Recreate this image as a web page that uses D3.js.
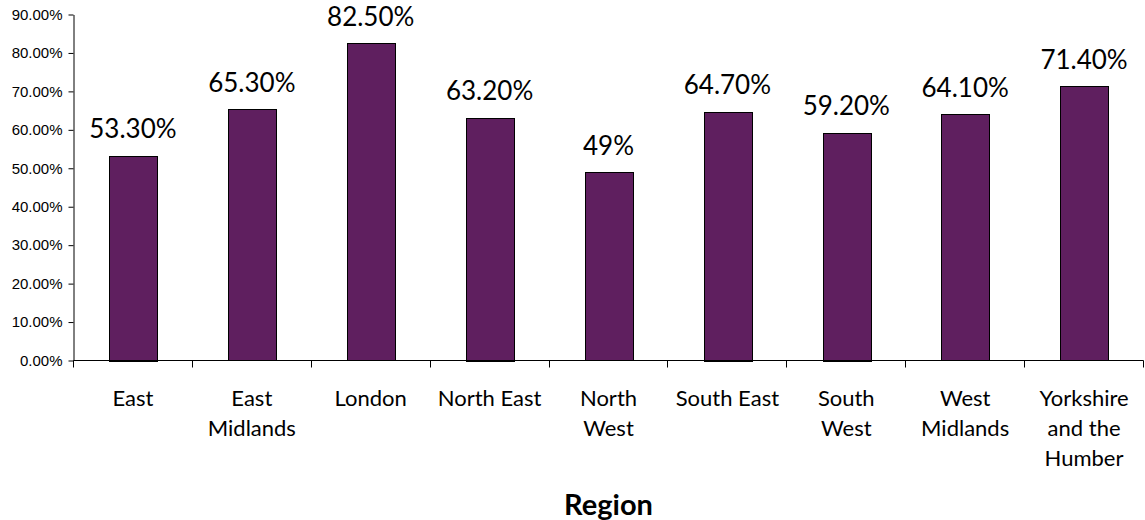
<!DOCTYPE html>
<html>
<head>
<meta charset="utf-8">
<script src="https://cdn.jsdelivr.net/npm/d3@7"></script>
<style>
  body { margin: 0; background: #fff; }
  svg { display: block; }
</style>
</head>
<body>
<div id="chart"></div>
<script>
// Share of respondents by region
const regions = [
  ['East'],
  ['East', 'Midlands'],
  ['London'],
  ['North East'],
  ['North', 'West'],
  ['South East'],
  ['South', 'West'],
  ['West', 'Midlands'],
  ['Yorkshire', 'and the', 'Humber']
];
const values = [53.3, 65.3, 82.5, 63.2, 49, 64.7, 59.2, 64.1, 71.4];
const valueLabels = ['53.30%', '65.30%', '82.50%', '63.20%', '49%', '64.70%', '59.20%', '64.10%', '71.40%'];
const yTicks = [0, 10, 20, 30, 40, 50, 60, 70, 80, 90];

const W = 1145;
const H = 520;
const x0 = 73.5, x1 = 1143.5;
const yBase = 360.5, yTop = 14.5;

const svg = d3.select('#chart')
  .append('svg')
  .attr('width', W)
  .attr('height', H);

const scaleX = d3.scaleBand()
  .domain(d3.range(values.length))
  .range([x0, x1])
  .paddingInner(0.6)
  .paddingOuter(0.3);

const scaleY = d3.scaleLinear()
  .domain([0, 90])
  .range([yBase, yTop]);

// Bars
svg.append('g')
  .selectAll('rect')
  .data(values)
  .join('rect')
  .attr('x', (d, i) => Math.round(scaleX(i)) + 0.5)
  .attr('y', d => Math.round(scaleY(d)) + 0.5)
  .attr('width', Math.round(scaleX.bandwidth()))
  .attr('height', d => Math.round(yBase - scaleY(d)))
  .attr('fill', '#5f1f5f')
  .attr('stroke', '#000')
  .attr('stroke-width', 1);

// Value labels
svg.append('g')
  .selectAll('text')
  .data(values)
  .join('text')
  .attr('x', (d, i) => scaleX(i) + scaleX.bandwidth() / 2)
  .attr('y', d => scaleY(d) - 17.5)
  .attr('text-anchor', 'middle')
  .style('font-family', 'Lato, "Noto Sans", sans-serif')
  .style('font-size', '26px')
  .style('fill', '#000')
  .text((d, i) => valueLabels[i]);

// Y axis
const yAxis = d3.axisLeft(scaleY)
  .tickValues(yTicks)
  .tickSizeInner(5)
  .tickSizeOuter(0)
  .tickPadding(6)
  .tickFormat(d => d.toFixed(2) + '%');

const gy = svg.append('g')
  .attr('transform', `translate(${x0}, 0)`)
  .call(yAxis);

gy.select('.domain').attr('stroke', '#000');
gy.selectAll('.tick line').attr('stroke', '#000');
gy.selectAll('.tick text')
  .style('font-family', '"Liberation Sans", Arial, sans-serif')
  .style('font-size', '15px')
  .attr('fill', '#000');

// X axis: line with ticks on the band boundaries
const gx = svg.append('g');
gx.append('line')
  .attr('x1', x0).attr('x2', x1)
  .attr('y1', yBase).attr('y2', yBase)
  .attr('stroke', '#000');

const step = scaleX.step();
const edges = d3.range(values.length + 1).map(i => x0 + i * step);
gx.selectAll('line.tick')
  .data(edges)
  .join('line')
  .attr('class', 'tick')
  .attr('x1', d => Math.round(d - 0.5) + 0.5)
  .attr('x2', d => Math.round(d - 0.5) + 0.5)
  .attr('y1', yBase)
  .attr('y2', yBase + 7)
  .attr('stroke', '#000');

// Category labels, one tspan per line
const catLabels = gx.selectAll('text.cat')
  .data(regions)
  .join('text')
  .attr('class', 'cat')
  .attr('text-anchor', 'middle')
  .style('font-family', 'Lato, "Noto Sans", sans-serif')
  .style('font-size', '22px')
  .style('fill', '#000');

catLabels.selectAll('tspan')
  .data((d, i) => d.map(line => ({ line, i })))
  .join('tspan')
  .attr('x', d => scaleX(d.i) + scaleX.bandwidth() / 2)
  .attr('y', (d, j) => 406 + j * 30)
  .text(d => d.line);

// Axis title
svg.append('text')
  .attr('x', (x0 + x1) / 2)
  .attr('y', 515)
  .attr('text-anchor', 'middle')
  .style('font-family', 'Lato, "Noto Sans", sans-serif')
  .style('font-weight', 'bold')
  .style('font-size', '29px')
  .style('fill', '#000')
  .text('Region');
</script>
</body>
</html>
